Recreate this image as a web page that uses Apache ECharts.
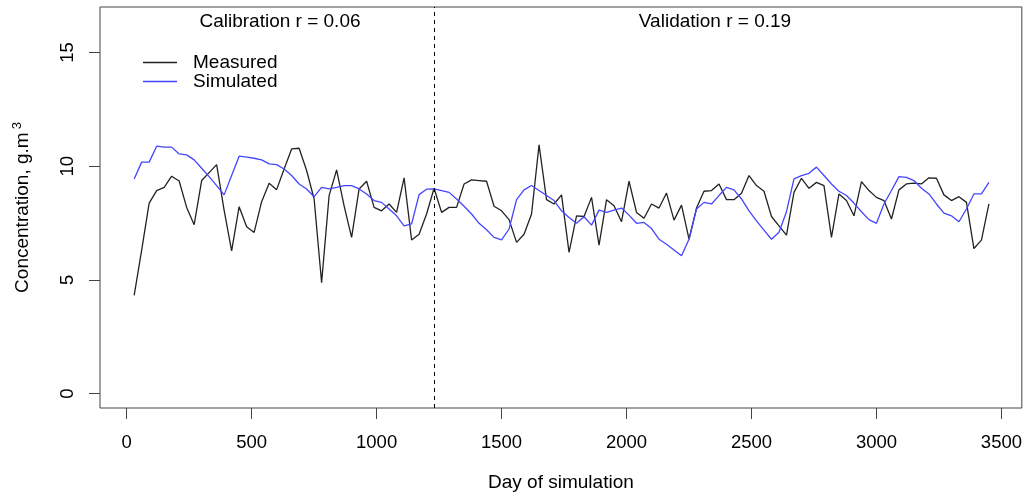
<!DOCTYPE html>
<html>
<head>
<meta charset="utf-8">
<script src="https://cdn.jsdelivr.net/npm/echarts@6/dist/echarts.min.js"></script>
<style>html,body{margin:0;padding:0;background:#fff}#c{width:1025px;height:497px}</style>
</head>
<body>
<div id="c"></div>
<script>
const days = [30,60,90,120,150,180,210,240,270,300,330,360,390,420,450,480,510,540,570,600,
630,660,690,720,750,780,810,840,870,900,930,960,990,1020,1050,1080,1110,1140,1170,1200,
1230,1260,1290,1320,1350,1380,1410,1440,1470,1500,1530,1560,1590,1620,1650,1680,1710,1740,1770,1800,
1830,1860,1890,1920,1950,1980,2010,2040,2070,2100,2130,2160,2190,2220,2250,2280,2310,2340,2370,2400,
2430,2460,2490,2520,2550,2580,2610,2640,2670,2700,2730,2760,2790,2820,2850,2880,2910,2940,2970,3000,
3030,3060,3090,3120,3150,3180,3210,3240,3270,3300,3330,3360,3390,3420,3450];
const measured = [4.32,6.31,8.38,8.93,9.07,9.56,9.35,8.19,7.43,9.37,9.72,10.07,8.06,6.28,8.22,7.34,7.09,8.44,9.25,8.97,
9.88,10.76,10.79,9.81,8.56,4.88,8.71,9.84,8.26,6.87,9.0,9.34,8.19,8.04,8.34,7.97,9.49,6.76,7.01,7.90,
9.03,7.97,8.19,8.19,9.22,9.40,9.37,9.34,8.24,8.04,7.65,6.65,7.01,7.90,10.94,8.53,8.34,8.74,6.21,7.82,
7.79,8.63,6.53,8.53,8.26,7.56,9.34,7.97,7.71,8.34,8.16,8.82,7.63,8.29,6.79,8.16,8.90,8.93,9.22,8.53,
8.53,8.81,9.59,9.15,8.90,7.79,7.38,6.97,8.85,9.47,9.03,9.29,9.15,6.87,8.78,8.49,7.82,9.32,8.93,8.63,
8.49,7.68,8.96,9.22,9.26,9.22,9.49,9.47,8.74,8.49,8.66,8.41,6.38,6.75,8.34];
const simulated = [9.44,10.18,10.18,10.88,10.84,10.84,10.54,10.50,10.28,9.91,9.54,9.15,8.74,9.59,10.44,10.40,10.35,10.28,10.10,10.07,
9.88,9.59,9.22,9.00,8.66,9.07,9.00,9.07,9.15,9.15,9.00,8.78,8.49,8.41,8.12,7.82,7.38,7.46,8.75,8.99,
9.00,8.93,8.85,8.56,8.24,7.90,7.49,7.21,6.87,6.76,7.24,8.53,8.96,9.15,8.93,8.71,8.49,8.04,7.75,7.49,
7.78,7.41,8.07,7.97,8.07,8.16,7.85,7.49,7.53,7.26,6.79,6.57,6.32,6.06,6.79,8.12,8.41,8.34,8.71,9.07,
8.96,8.56,8.04,7.60,7.19,6.79,7.10,8.00,9.44,9.59,9.69,9.96,9.59,9.22,8.90,8.71,8.38,8.00,7.65,7.49,
8.34,8.93,9.54,9.51,9.37,9.03,8.78,8.34,7.94,7.82,7.56,8.12,8.78,8.78,9.29];
const xTicks = [0,500,1000,1500,2000,2500,3000,3500];
const yTicks = [0,5,10,15];
const splitDay = 1230;
const calibText = 'Calibration r = 0.06';
const validText = 'Validation r = 0.19';

const FONT = "'Liberation Sans', Arial, sans-serif";
const chart = echarts.init(document.getElementById('c'), null, {renderer: 'canvas'});
const pair = (xs, ys) => xs.map((x, i) => [x, ys[i]]);
chart.setOption({
  animation: false,
  backgroundColor: '#fff',
  textStyle: {fontFamily: FONT},
  grid: {left: 100, right: 2, top: 7, bottom: 89, show: true, borderColor: '#444', borderWidth: 1, backgroundColor: 'transparent'},
  legend: {
    orient: 'vertical', left: 143, top: 53, padding: 0, icon: 'rect', itemWidth: 34, itemHeight: 1.3, itemGap: 0,
    textStyle: {fontFamily: FONT, fontSize: 19, lineHeight: 19, color: '#000', padding: [0, 0, 0, 11]},
    data: ['Measured', 'Simulated']
  },
  xAxis: {
    type: 'value', min: -106.7, max: 3581.6,
    splitLine: {show: false},
    axisLine: {show: false, onZero: false},
    axisTick: {show: true, length: 11, lineStyle: {color: '#444'}, customValues: xTicks},
    axisLabel: {fontFamily: FONT, fontSize: 18.5, color: '#000', margin: 25, customValues: xTicks, formatter: v => String(v)},
    name: 'Day of simulation', nameLocation: 'middle', nameGap: 65,
    nameTextStyle: {fontFamily: FONT, fontSize: 19, color: '#000'}
  },
  yAxis: {
    type: 'value', min: -0.63, max: 17.0,
    splitLine: {show: false},
    axisLine: {show: false, onZero: false},
    axisTick: {show: true, length: 11, lineStyle: {color: '#444'}, customValues: yTicks},
    axisLabel: {fontFamily: FONT, fontSize: 18.5, color: '#000', margin: 23, rotate: 90, customValues: yTicks, formatter: v => String(v)},
    name: 'Concentration, g.m{sup|3}', nameLocation: 'middle', nameGap: 66, nameRotate: 90,
    nameTextStyle: {fontFamily: FONT, fontSize: 19, color: '#000',
      rich: {sup: {fontFamily: FONT, fontSize: 13, color: '#000', verticalAlign: 'top', padding: [0, 0, 10, 3]}}}
  },
  graphic: [
    {type: 'text', x: 280, y: 22, style: {text: calibText, fontFamily: FONT, fontSize: 19, fill: '#000', align: 'center', verticalAlign: 'middle'}},
    {type: 'text', x: 715, y: 22, style: {text: validText, fontFamily: FONT, fontSize: 19, fill: '#000', align: 'center', verticalAlign: 'middle'}}
  ],
  series: [
    {
      name: 'Measured', type: 'line', data: pair(days, measured), symbol: 'none',
      lineStyle: {color: '#222', width: 1.3}, itemStyle: {color: '#222'},
      markLine: {
        silent: true, symbol: 'none', label: {show: false},
        lineStyle: {color: '#000', width: 1, type: [4, 4]},
        data: [{xAxis: splitDay}]
      }
    },
    {
      name: 'Simulated', type: 'line', data: pair(days, simulated), symbol: 'none',
      lineStyle: {color: '#4545ff', width: 1.3}, itemStyle: {color: '#4545ff'}
    }
  ]
});
</script>
</body>
</html>
